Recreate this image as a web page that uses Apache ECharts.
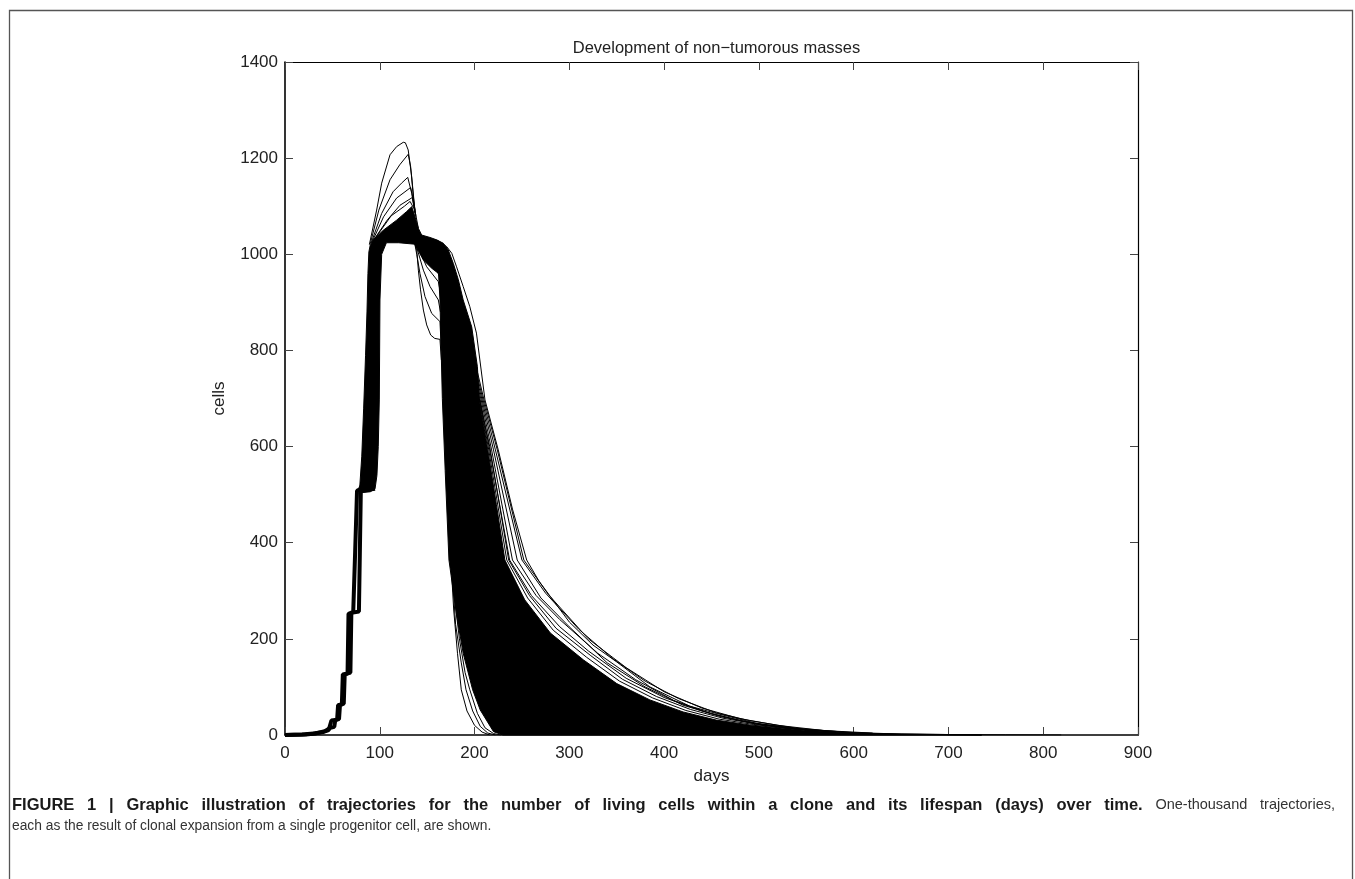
<!DOCTYPE html>
<html>
<head>
<meta charset="utf-8">
<title>Development of non-tumorous masses</title>
<script src="https://cdn.jsdelivr.net/npm/echarts@6/dist/echarts.min.js"></script>
<style>
  html, body { margin: 0; padding: 0; background: #fff; }
  #chart { width: 1355px; height: 879px; }
</style>
</head>
<body>
<div id="chart"></div>
<script>
// axis ticks
const X_TICKS = [0, 100, 200, 300, 400, 500, 600, 700, 800, 900];
const Y_TICKS = [0, 200, 400, 600, 800, 1000, 1200, 1400];

// outline of the dense black mass of the 1000 trajectories [days, cells]
const DENSE_OUTLINE = [
  [77, 506], [79, 520], [81, 580], [83, 680], [85, 790], [86.5, 880], [87.5, 960], [88.5, 1005],
  [90, 1020], [93.2, 1030], [103.7, 1050], [117.8, 1071], [128.4, 1089], [133.7, 1099],
  [137.2, 1078], [140.7, 1054], [144.2, 1040], [153, 1035], [160, 1030], [167, 1023],
  [172.3, 1009], [177.6, 981], [182.9, 947], [188, 905], [197, 849], [203, 766], [205, 697],
  [214, 593], [223, 480], [232, 364], [253, 281], [280, 212], [315, 156], [350, 107],
  [385, 73], [420, 48], [455, 31], [490, 21], [547, 10], [600, 4], [650, 1.5], [735, 0],
  [230, 0], [220, 7], [206, 52], [198, 94], [188, 170], [181, 250], [173, 364], [169, 550],
  [166, 700], [163.5, 905], [162, 960], [154.8, 971], [146, 988], [137, 1021], [120, 1024],
  [107, 1024], [102, 1000], [100.2, 905], [99.5, 697], [98.4, 600], [97, 540], [95, 512],
  [90, 506], [80, 504]
];

// staircase growth, earliest and latest trajectories
const RISE_EARLY = [[0, 0], [18, 1], [30, 3], [40, 6], [46, 10], [48, 14], [49, 30], [55, 32],
  [56, 62], [60, 64], [61, 126], [66, 128], [67, 252], [72, 256], [74, 380], [76, 508], [80, 512]];
const RISE_LATE = [[0, 0], [22, 1], [32, 3], [42, 8], [48, 15], [52, 17], [53, 31], [57, 33],
  [58, 62], [62, 65], [63, 126], [69, 130], [70, 254], [78, 257], [80, 508], [95, 512]];

// overshooting trajectories above the 1024 plateau
const PEAK_1 = [[89, 1020], [96.7, 1092], [102, 1148], [110.8, 1207], [117.8, 1224], [124.8, 1233],
  [127, 1232], [130, 1217], [133.7, 1161], [137, 1092], [140.7, 1054]];
const PEAK_2 = [[90, 1022], [99, 1092], [110.8, 1155], [121, 1186], [130, 1208], [132.6, 1182],
  [135.4, 1120], [138, 1078]];
const PEAK_3 = [[91, 1024], [102, 1085], [114, 1130], [123, 1148], [129.5, 1160], [133.7, 1127], [137, 1085]];
const PEAK_4 = [[92, 1026], [104, 1078], [117.8, 1117], [126.6, 1130], [132.6, 1139], [135.4, 1113], [138, 1081]];
const PEAK_5 = [[93, 1028], [107.8, 1071], [121.3, 1102], [134.3, 1118], [137, 1092]];
const PEAK_6 = [[94, 1030], [112, 1080], [126, 1100], [132, 1110], [136, 1095]];

// early decliners dipping into the gap
const DIP_1 = [[137, 1021], [139, 1009], [140.7, 967], [143, 926], [146, 884], [149.5, 853],
  [153.7, 832], [158, 825], [163.5, 823], [165, 780]];
const DIP_2 = [[137, 1021], [139, 1000], [142.4, 960], [147.7, 912], [154.8, 877], [163.5, 860], [165, 800]];
const DIP_3 = [[138, 1021], [146, 967], [153, 933], [161.8, 905], [164, 880]];
const DIP_4 = [[139, 1020], [149.5, 974], [161.8, 943], [164, 920]];
const DIP_5 = [[141, 1018], [160, 967], [164, 950]];

// fastest decliners on the left of the fall
const LEFT_1 = [[176, 330], [178, 260], [182, 170], [186, 94], [192, 50], [200, 20], [208, 6], [216, 0]];
const LEFT_2 = [[177, 320], [180, 230], [186, 150], [191, 94], [198, 50], [206, 18], [214, 4], [222, 0]];
const LEFT_3 = [[178, 300], [184, 200], [190, 130], [195, 94], [203, 45], [211, 15], [220, 3], [228, 0]];

// long-lived trajectories in the tail
const OUTER_1 = [[160, 1030], [170.6, 1016], [176, 1002], [181, 974], [188, 933], [195, 891], [202, 836],
  [211, 697], [225, 593], [240, 470], [255, 364], [268, 320], [280, 288], [300, 235], [325, 187],
  [350, 152], [385, 100], [427, 60], [455, 45], [498, 24], [547, 12], [600, 5], [650, 2], [700, 1], [735, 0]];
const MID_1 = [[200, 760], [208, 697], [220, 593], [245, 364], [270, 285], [300, 225], [340, 150],
  [380, 100], [420, 62], [460, 38], [500, 22], [550, 10], [600, 4]];
const MID_2 = [[200, 750], [207, 697], [218, 593], [240, 364], [265, 290], [290, 240], [330, 170],
  [370, 115], [410, 72], [450, 44], [495, 24], [545, 11]];
const MID_3 = [[200, 740], [206, 697], [216, 593], [237, 364], [260, 290], [290, 225], [320, 175],
  [360, 118], [400, 78], [440, 50], [480, 30], [530, 14], [580, 6]];
const MID_4 = [[200, 770], [209, 697], [222, 593], [250, 364], [275, 295], [310, 220], [345, 160],
  [380, 112], [415, 76], [455, 46], [490, 30], [540, 14], [590, 6]];
const MID_5 = [[200, 780], [210, 697], [224, 593], [252, 364], [278, 292], [320, 200], [360, 140],
  [400, 90], [440, 56], [480, 34], [520, 20], [570, 9], [620, 4]];
const MID_6 = [[205, 700], [215, 593], [234, 364], [256, 285], [283, 218], [318, 162], [353, 112],
  [388, 77], [423, 51], [458, 33], [494, 22], [550, 10]];
const MID_7 = [[205, 700], [216, 600], [236, 364], [258, 290], [286, 222], [322, 166], [356, 116],
  [392, 80], [428, 53], [462, 35], [500, 22], [555, 10]];
const TAIL_LONG = [[600, 4], [650, 2], [700, 1], [760, 0.4], [819, 0]];

const TITLE = 'Development of non\u2212tumorous masses';
const CAPTION_BOLD = 'FIGURE 1 | Graphic illustration of trajectories for the number of living cells within a clone and its lifespan (days) over time.';
const CAPTION_REST = 'One-thousand trajectories,';
const CAPTION_LINE2 = 'each as the result of clonal expansion from a single progenitor cell, are shown.';

const FONT = '"Liberation Sans", Arial, Helvetica, sans-serif';

const chart = echarts.init(document.getElementById('chart'), null, { renderer: 'canvas' });

const thinLines = [PEAK_1, PEAK_2, PEAK_3, PEAK_4, PEAK_5, PEAK_6,
  DIP_1, DIP_2, DIP_3, DIP_4, DIP_5, LEFT_1, LEFT_2, LEFT_3,
  OUTER_1, MID_1, MID_2, MID_3, MID_4, MID_5, MID_6, MID_7, TAIL_LONG];

const lineSeries = (data, width) => ({
  type: 'line',
  data: data,
  symbol: 'none',
  silent: true,
  lineStyle: { color: '#000', width: width },
  z: 3
});

// caption first line is justified across the frame like the printed page
const capGraphics = (() => {
  const ctx = document.createElement('canvas').getContext('2d');
  const words = [];
  CAPTION_BOLD.split(' ').forEach(w => words.push({ w, bold: true }));
  CAPTION_REST.split(' ').forEach(w => words.push({ w, bold: false }));
  const fontOf = (bold) => (bold ? 'bold 16.5px ' : '14.5px ') + FONT;
  let total = 0;
  words.forEach(o => { ctx.font = fontOf(o.bold); o.width = ctx.measureText(o.w).width; total += o.width; });
  const left = 12, right = 1335;
  const gap = (right - left - total) / (words.length - 1);
  let pos = left;
  const els = words.map(o => {
    const el = {
      type: 'text', x: pos, y: 805, silent: true,
      style: { text: o.w, font: fontOf(o.bold), fill: o.bold ? '#1a1a1a' : '#333', verticalAlign: 'middle', align: 'left' }
    };
    pos += o.width + gap;
    return el;
  });
  els.push({
    type: 'text', x: left, y: 826, silent: true,
    style: { text: CAPTION_LINE2, font: '13.8px ' + FONT, fill: '#333', verticalAlign: 'middle', align: 'left' }
  });
  return els;
})();

const axisCommon = {
  type: 'value',
  splitLine: { show: false },
  axisTick: { show: true, inside: true, length: 8, lineStyle: { color: '#444', width: 1 } }
};

const option = {
  animation: false,
  backgroundColor: '#fff',
  title: {
    text: TITLE,
    left: 711.5,
    top: 35,
    textAlign: 'center',
    textStyle: { fontFamily: FONT, fontSize: 16.5, fontWeight: 'normal', color: '#222' }
  },
  grid: { left: 285, right: 217, top: 62, bottom: 144, containLabel: false },
  xAxis: [
    Object.assign({}, axisCommon, {
      position: 'bottom', min: 0, max: 900, interval: 100,
      name: 'days', nameLocation: 'middle', nameGap: 33,
      nameTextStyle: { fontFamily: FONT, fontSize: 17, color: '#222' },
      axisLine: { show: true, onZero: false, lineStyle: { color: '#000', width: 1.6 } },
      axisLabel: {
        margin: 10, fontFamily: FONT, fontSize: 17, color: '#222',
        formatter: v => (X_TICKS.includes(v) ? String(v) : '')
      }
    }),
    Object.assign({}, axisCommon, {
      position: 'top', min: 0, max: 900, interval: 100,
      axisLine: { show: true, onZero: false, lineStyle: { color: '#000', width: 1.2 } },
      axisLabel: { show: false }
    })
  ],
  yAxis: [
    Object.assign({}, axisCommon, {
      position: 'left', min: 0, max: 1400, interval: 200,
      name: 'cells', nameLocation: 'middle', nameGap: 57, nameRotate: 90,
      nameTextStyle: { fontFamily: FONT, fontSize: 17, color: '#222' },
      axisLine: { show: true, onZero: false, lineStyle: { color: '#000', width: 1.6 } },
      axisLabel: {
        margin: 7, fontFamily: FONT, fontSize: 17, color: '#222',
        formatter: v => (Y_TICKS.includes(v) ? String(v) : '')
      }
    }),
    Object.assign({}, axisCommon, {
      position: 'right', min: 0, max: 1400, interval: 200,
      axisLine: { show: true, onZero: false, lineStyle: { color: '#000', width: 1.2 } },
      axisLabel: { show: false }
    })
  ],
  graphic: [
    {
      type: 'rect', silent: true, z: -10,
      shape: { x: 9.5, y: 10.5, width: 1343, height: 900 },
      style: { fill: 'none', stroke: '#555', lineWidth: 1.3 }
    }
  ].concat(capGraphics),
  series: [
    {
      type: 'custom',
      silent: true,
      z: 2,
      data: [[0, 0]],
      renderItem: function (params, api) {
        return {
          type: 'polygon',
          shape: { points: DENSE_OUTLINE.map(p => api.coord(p)) },
          style: { fill: '#000', stroke: '#000', lineWidth: 1 }
        };
      }
    },
    lineSeries(RISE_EARLY, 4),
    lineSeries(RISE_LATE, 4)
  ].concat(thinLines.map(d => lineSeries(d, 1)))
};

chart.setOption(option);
</script>
</body>
</html>
